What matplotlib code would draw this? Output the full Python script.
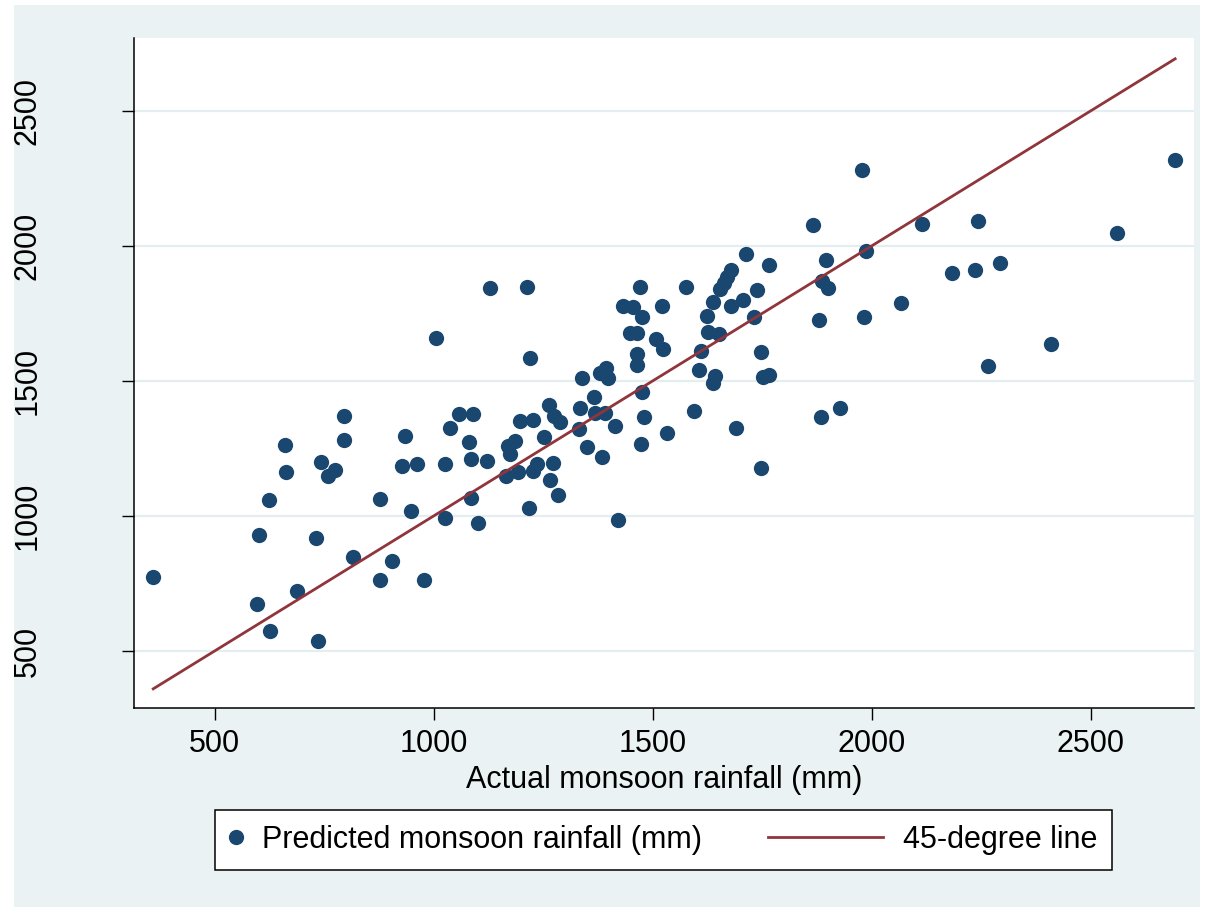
import numpy as np
import matplotlib
matplotlib.use("Agg")
import matplotlib.pyplot as plt
from matplotlib.lines import Line2D
from matplotlib.patches import Rectangle
from matplotlib.legend_handler import HandlerLine2D

plt.rcParams['font.family'] = ['Liberation Sans', 'DejaVu Sans']

# actual vs predicted monsoon rainfall (mm)
actual = [360, 598, 627, 689, 736, 816, 878, 905, 978, 601,
          624, 732, 661, 663, 743, 776, 758, 795, 795, 877,
          934, 927, 962, 949, 1025, 1025, 1038, 1058, 1090, 1082,
          1086, 1123, 1085, 1102, 1006, 1128, 1214, 1221, 1338, 1380,
          1394, 1398, 1433, 1455, 1475, 1448, 1465, 1471, 1522, 1507,
          1524, 1464, 1464, 1577, 1605, 1610, 1627, 1642, 1637, 1624,
          1652, 1638, 1655, 1662, 1670, 1679, 1680, 1707, 1714, 1739,
          1765, 1732, 1748, 1751, 1765, 1867, 1895, 1886, 1900, 1880,
          1978, 2693, 2114, 2242, 2561, 1987, 2184, 2235, 2294, 2066,
          1982, 2409, 2266, 1476, 1366, 1264, 1335, 1275, 1289, 1198,
          1226, 1369, 1391, 1414, 1481, 1595, 1332, 1253, 1185, 1171,
          1174, 1534, 1691, 1884, 1928, 1351, 1384, 1473, 1272, 1237,
          1226, 1192, 1165, 1265, 1283, 1217, 1420, 1748]

predicted = [774, 675, 574, 723, 538, 850, 763, 835, 763, 930,
             1059, 920, 1263, 1164, 1199, 1172, 1148, 1372, 1282, 1063,
             1296, 1186, 1193, 1019, 994, 1193, 1327, 1379, 1379, 1273,
             1210, 1205, 1067, 973, 1659, 1843, 1847, 1584, 1511, 1529,
             1549, 1511, 1778, 1775, 1736, 1677, 1679, 1849, 1778, 1656,
             1620, 1599, 1559, 1849, 1539, 1611, 1680, 1519, 1494, 1742,
             1673, 1792, 1841, 1862, 1884, 1911, 1779, 1799, 1970, 1838,
             1929, 1737, 1607, 1513, 1522, 2077, 1949, 1872, 1846, 1726,
             2280, 2317, 2080, 2092, 2048, 1982, 1901, 1911, 1936, 1790,
             1738, 1637, 1557, 1458, 1442, 1410, 1399, 1372, 1347, 1352,
             1356, 1380, 1380, 1334, 1366, 1390, 1322, 1292, 1279, 1259,
             1231, 1309, 1325, 1366, 1400, 1256, 1220, 1267, 1197, 1192,
             1168, 1164, 1148, 1132, 1077, 1029, 985, 1177]

ticks = [500, 1000, 1500, 2000, 2500]

NAVY = '#1A476F'
MAROON = '#90353B'
BG = '#EAF2F3'


# legend line drawn longer than the (short) handle box, ending at its right edge
class LongLine(HandlerLine2D):
    def get_xdata(self, legend, xdescent, ydescent, width, height, fontsize):
        x = np.array([-xdescent + width - 83.0, -xdescent + width])
        return x, x


fig = plt.figure(figsize=(12.09, 9.07), dpi=100)
fig.patch.set_facecolor('white')
fig.add_artist(Rectangle((14 / 1209, 0), 1186 / 1209, 902 / 907,
                         transform=fig.transFigure, facecolor=BG,
                         edgecolor='none', zorder=-10))

ax = fig.add_axes([0.1108, 0.2191, 0.8768, 0.7390])
ax.set_facecolor('white')

ax.plot(actual, predicted, 'o', color=NAVY, markersize=11,
        markeredgewidth=0, zorder=3)
lo, hi = min(actual), max(actual)
ax.plot([lo, hi], [lo, hi], color=MAROON, linewidth=2.0, zorder=4)

ax.set_xlim(316, 2736)
ax.set_ylim(288, 2770)
ax.set_xticks(ticks)
ax.set_yticks(ticks)
ax.set_yticklabels([str(t) for t in ticks], rotation=90, va='center')

ax.yaxis.grid(True, color='#E4EEF0', linewidth=1.6)
ax.set_axisbelow(True)
for s in ['top', 'right']:
    ax.spines[s].set_visible(False)
for s in ['left', 'bottom']:
    ax.spines[s].set_linewidth(1.1)
    ax.spines[s].set_color('black')

ax.tick_params(axis='both', direction='out', length=8.6, width=1.0,
               labelsize=22, color='black')
ax.tick_params(axis='x', pad=6.5)
ax.tick_params(axis='y', pad=57)

ax.set_xlabel('Actual monsoon rainfall (mm)', fontsize=22, labelpad=4)

h1 = Line2D([], [], linestyle='none', marker='o', color=NAVY,
            markersize=11, markeredgewidth=0)
h2 = Line2D([], [], color=MAROON, linewidth=2.0)
leg = fig.legend([h1, h2], ['Predicted monsoon rainfall (mm)', '45-degree line'],
                 loc='center', bbox_to_anchor=(663.5 / 1209, 1 - 840 / 907),
                 ncol=2, fontsize=22, frameon=True, fancybox=False,
                 framealpha=1, edgecolor='black', borderpad=0.5,
                 handlelength=0.41, handletextpad=0.65, columnspacing=5.5,
                 handler_map={h2: LongLine()})
leg.get_frame().set_linewidth(1.1)

fig.savefig('out.png', dpi=100, facecolor=fig.get_facecolor())
